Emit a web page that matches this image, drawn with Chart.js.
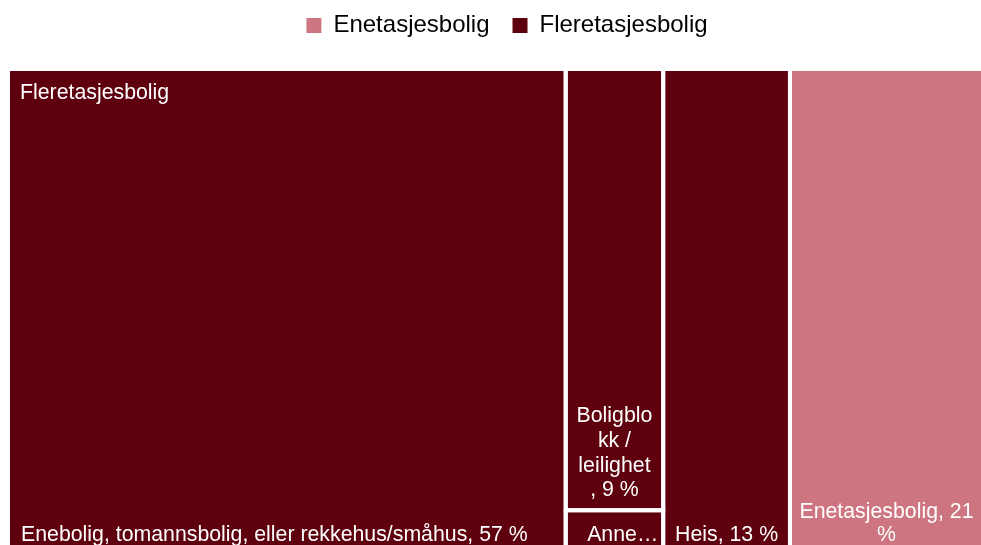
<!DOCTYPE html>
<html>
<head>
<meta charset="utf-8">
<script src="https://cdn.jsdelivr.net/npm/chart.js@4.4.0/dist/chart.umd.min.js"></script>
<style>
  html, body { margin: 0; padding: 0; background: #ffffff; }
  #wrap { width: 981px; height: 545px; }
</style>
</head>
<body>
<div id="wrap"><canvas id="c" width="981" height="545"></canvas></div>
<script>
// ---- data ----
const legendGroups = ['Enetasjesbolig', 'Fleretasjesbolig'];
const groupLayoutOrder = ['Fleretasjesbolig', 'Enetasjesbolig'];
const leafNames = [
  'Enebolig, tomannsbolig, eller rekkehus/småhus',
  'Boligblokk / leilighet',
  'Annet',
  'Heis',
  'Enetasjesbolig'
];
const leafGroups = ['Fleretasjesbolig', 'Fleretasjesbolig', 'Fleretasjesbolig', 'Fleretasjesbolig', 'Enetasjesbolig'];
const leafValues = [57.2, 9.23, 0.77, 13.0, 19.8];
const leafColumns = [0, 1, 1, 2, 0];
const leafLabelLines = [
  ['Enebolig, tomannsbolig, eller rekkehus/småhus, 57 %'],
  ['Boligblo', 'kk /', 'leilighet', ', 9 %'],
  ['Anne…'],
  ['Heis, 13 %'],
  ['Enetasjesbolig, 21', '%']
];

// ---- styles ----
const groupColors = { 'Enetasjesbolig': '#cd7581', 'Fleretasjesbolig': '#5e000e' };
const FONT_FAMILY = '"Liberation Sans", Arial, Helvetica, sans-serif';
const GAP = 4;                 // white gap between tiles (px)
const AREA_W = 973, AREA_H = 476; // plot area size (px), used to push outer tile borders off-canvas
const labelStyles = [
  { align: 'left', padX: 11, bottom: 4.5, lh: 23 },
  { align: 'center', padX: 0, bottom: 12, lh: 24.7 },
  { align: 'right', padX: 3, bottom: 4.5, lh: 23 },
  { align: 'center', padX: 0, bottom: 4.5, lh: 23 },
  { align: 'center', padX: 0, bottom: 4.5, lh: 22.5 }
];

// ---- treemap layout in value units (x: value, y: 0..1 fraction) ----
const total = leafValues.reduce((a, b) => a + b, 0);
const rects = [];
const groupRects = {};
let gx = 0;
groupLayoutOrder.forEach(g => {
  const idx = leafNames.map((_, i) => i).filter(i => leafGroups[i] === g);
  const cols = [...new Set(idx.map(i => leafColumns[i]))].sort((a, b) => a - b);
  const gStart = gx;
  cols.forEach(c => {
    const members = idx.filter(i => leafColumns[i] === c);
    const colSum = members.reduce((s, i) => s + leafValues[i], 0);
    let cy = 0;
    members.forEach(i => {
      const h = leafValues[i] / colSum;
      rects[i] = { x0: gx, x1: gx + colSum, y0: cy, y1: cy + h };
      cy += h;
    });
    gx += colSum;
  });
  groupRects[g] = { x0: gStart, x1: gx, y0: 0, y1: 1 };
});

const datasets = leafNames.map((name, i) => {
  const r = rects[i];
  return {
    label: name,
    data: [
      { x: r.x0, y: r.y0 }, { x: r.x1, y: r.y0 },
      { x: r.x1, y: r.y1 }, { x: r.x0, y: r.y1 }, { x: r.x0, y: r.y0 }
    ],
    showLine: true,
    fill: 'shape',
    backgroundColor: groupColors[leafGroups[i]],
    borderColor: '#ffffff',
    borderWidth: GAP,
    pointRadius: 0,
    pointHoverRadius: 0,
    tension: 0,
    clip: false
  };
});

const labelPlugin = {
  id: 'treemapLabels',
  afterDatasetsDraw(chart) {
    const ctx = chart.ctx;
    const xs = chart.scales.x, ys = chart.scales.y;
    const area = chart.chartArea;
    ctx.save();
    ctx.fillStyle = '#ffffff';
    ctx.textBaseline = 'alphabetic';
    ctx.font = '21.3px ' + FONT_FAMILY;
    leafNames.forEach((_, i) => {
      const r = rects[i], st = labelStyles[i];
      const left = xs.getPixelForValue(r.x0) + GAP / 2;
      const right = Math.min(xs.getPixelForValue(r.x1) - GAP / 2, area.right);
      const bottom = Math.min(ys.getPixelForValue(r.y1) - GAP / 2, area.bottom);
      const lines = leafLabelLines[i];
      ctx.textAlign = st.align;
      let tx;
      if (st.align === 'left') tx = left + st.padX;
      else if (st.align === 'right') tx = right - st.padX;
      else tx = (left + right) / 2;
      lines.forEach((line, k) => {
        const by = bottom - st.bottom - (lines.length - 1 - k) * st.lh;
        ctx.fillText(line, tx, by);
      });
    });
    // group header label
    ctx.textAlign = 'left';
    const gr = groupRects['Fleretasjesbolig'];
    const gl = xs.getPixelForValue(gr.x0) + GAP / 2;
    const gt = ys.getPixelForValue(gr.y0) + GAP / 2;
    ctx.fillText('Fleretasjesbolig', gl + 10, gt + 28);
    ctx.restore();
  }
};

const legendSpace = {
  id: 'legendSpace',
  beforeInit(chart) {
    const origFit = chart.legend.fit;
    chart.legend.fit = function () {
      origFit.bind(chart.legend)();
      this.height += 21.5;
    };
  },
  afterLayout(chart) {
    chart.legend.left += 12.5;
    chart.legend.right += 12.5;
  }
};

new Chart(document.getElementById('c'), {
  type: 'scatter',
  data: { datasets },
  options: {
    responsive: false,
    animation: false,
    events: [],
    layout: { autoPadding: false, padding: { left: 8, right: 0, top: -9.5, bottom: 0 } },
    scales: {
      x: { type: 'linear', min: 0, max: total * (AREA_W - GAP / 2) / AREA_W, display: false },
      y: { type: 'linear', min: 0, max: (AREA_H - GAP / 2) / AREA_H, reverse: true, display: false }
    },
    elements: { line: { tension: 0 } },
    plugins: {
      filler: { drawTime: 'beforeDatasetsDraw', propagate: false },
      tooltip: { enabled: false },
      legend: {
        position: 'top',
        align: 'center',
        labels: {
          boxWidth: 15,
          boxHeight: 15,
          padding: 23,
          color: '#666666',
          font: { size: 24, family: FONT_FAMILY },
          generateLabels() {
            return legendGroups.map(g => ({
              text: g,
              fillStyle: groupColors[g],
              strokeStyle: groupColors[g],
              lineWidth: 0,
              hidden: false
            }));
          }
        }
      }
    }
  },
  plugins: [labelPlugin, legendSpace]
});
</script>
</body>
</html>
